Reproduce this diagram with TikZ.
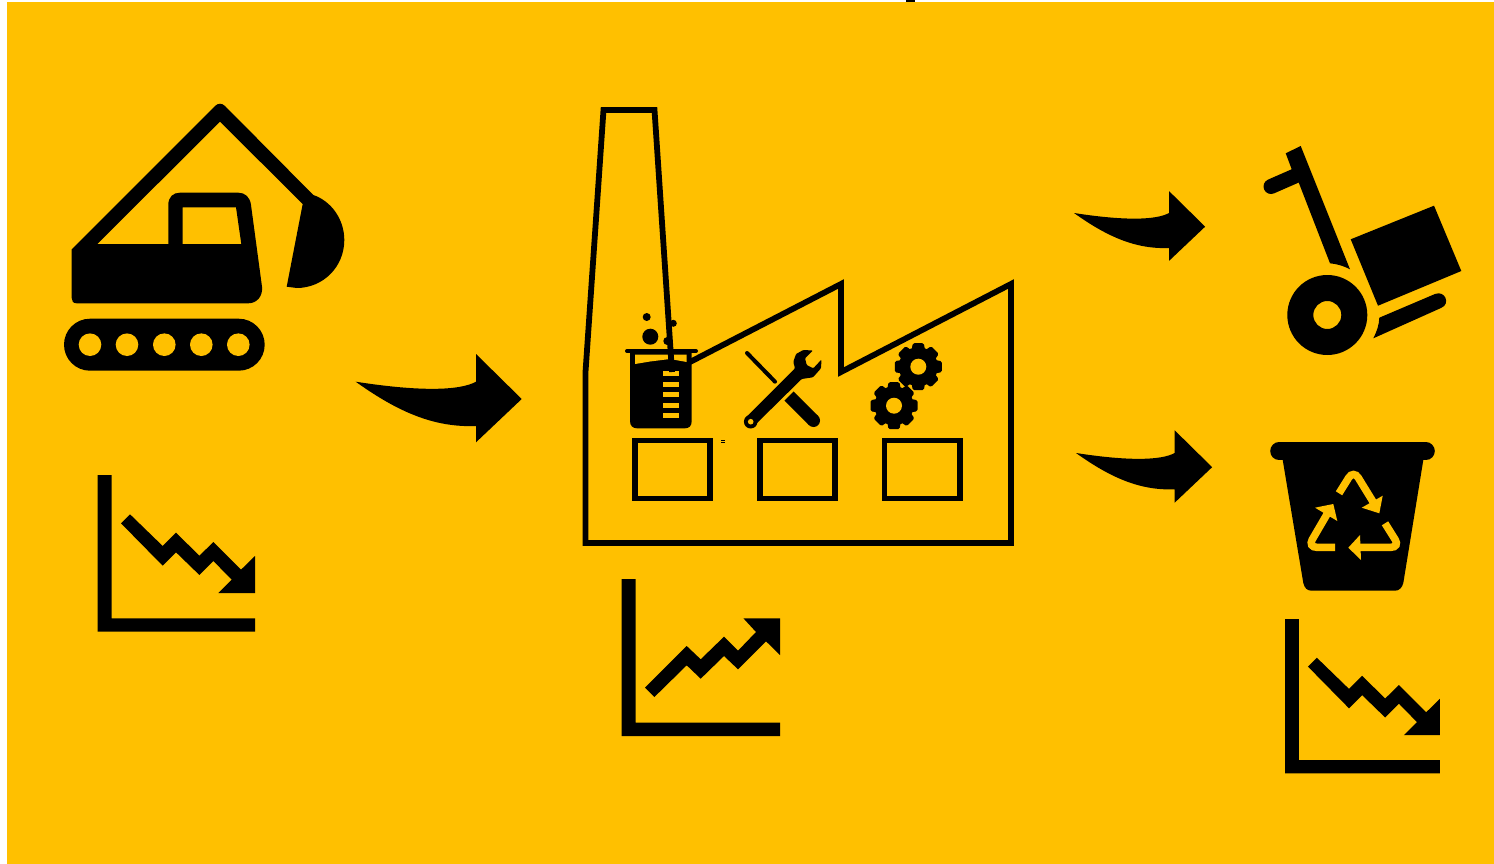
\documentclass[tikz,border=0pt]{standalone}
\definecolor{bgyellow}{HTML}{FFC000}
\tikzset{
  pics/chartdown/.style={code={
    \fill (0,0) -- (0,156.7) -- (157.3,156.7) -- (157.3,143.3) -- (14,143.3) -- (14,0) -- cycle;
    \fill (23.3,48.3) -- (32.3,39.3) -- (65,71) -- (78.3,57.7) -- (101.7,80.7) -- (115.7,67) -- (143.3,94.7) -- (157.3,81) -- (157.3,118) -- (120.7,118) -- (134,104.7) -- (115.7,86) -- (101.7,100) -- (78.3,77.3) -- (65,90.7) -- cycle;
  }},
  pics/chartup/.style={code={
    \fill (0,0) -- (0,157) -- (158.3,157) -- (158.3,143.7) -- (14,143.7) -- (14,0) -- cycle;
    \fill (23.3,108.7) -- (65,67) -- (79,80.3) -- (102.3,57.7) -- (116.3,71.7) -- (134.3,53) -- (121.7,39.3) -- (158.3,39.3) -- (158.3,76) -- (144.3,62.3) -- (116.3,90.3) -- (102.3,77) -- (79,99.7) -- (65,86.3) -- (32.7,118) -- cycle;
  }},
  pics/bendarrow/.style={code={
    \fill (0,0) .. controls (64,10) and (104,9) .. (120.3,0) -- (120.3,-27.7) -- (166,17.3) -- (120.3,60.6) -- (120.3,44.3) .. controls (78,46) and (42,30) .. (0,0) -- cycle;
  }},
  pics/gearicon/.style={code={
    \fill (0,0) circle[radius=19.5];
    \foreach \a in {0,45,...,315}
      \fill[rotate=\a,rounded corners=1.5pt] (-5.5,-23.5) -- (5.5,-23.5) -- (7,-15) -- (-7,-15) -- cycle;
    \fill[bgyellow] (0,0) circle[radius=8];
  }},
  outline/.style={draw=black,line width=5.8pt,miter limit=10},
  recycle/.style={draw=bgyellow,line width=7.5pt,rounded corners=9pt},
}
\begin{document}
\begin{tikzpicture}[x=1pt,y=-1pt,line join=miter]
\useasboundingbox (0,0) rectangle (1494,864);
\fill[white] (0,0) rectangle (1494,864);
\fill[bgyellow] (7,2) rectangle (1494,864);
\fill (906,0) rectangle (915,1.6);
\fill (720.5,439.6) rectangle (724.5,440.4);
\fill (720.5,441.6) rectangle (724.5,442.4);
\fill[even odd rule] (71.7,298) -- (71.7,249.3) -- (215,106) .. controls (218,103) and (222,103) .. (225,106) -- (313.3,195) .. controls (331,201) and (344.3,219) .. (344.3,240) .. controls (344.3,267) and (323,288) .. (296.7,288) -- (286.7,286.7) -- (302.7,204) -- (220,121.7) -- (97.3,244) -- (168.3,244) -- (168.3,205) .. controls (168.3,197) and (173,192.7) .. (180,192.7) -- (238.3,192.7) .. controls (245,192.7) and (250,197) .. (251,205) -- (262,286.7) .. controls (263,296) and (257,303.3) .. (248.3,303.3) -- (76.7,303.3) .. controls (73,303.3) and (71.7,301) .. (71.7,298) -- cycle (182.7,207.3) -- (236,207.3) -- (241.3,244) -- (182.7,244) -- cycle;
\fill[rounded corners=26pt] (64,318.7) rectangle (264.7,370.7);
\foreach \x in {90,127,164.3,201.3,238.3}
  \fill[bgyellow] (\x,344.7) circle[radius=11.3];
\pic at (97.7,475) {chartdown};
\pic[scale=.985] at (1285,619) {chartdown};
\pic at (621.7,579) {chartup};
\pic at (355.7,381.7) {bendarrow};
\pic[scale=.79] at (1074,213) {bendarrow};
\pic[scale=.82] at (1076,453) {bendarrow};
\fill (630,351) -- (630,421) .. controls (630,426) and (633,428.3) .. (637,428.3) -- (685,428.3) .. controls (689,428.3) and (691.7,426) .. (691.7,421) -- (691.7,351) -- cycle;
\draw[line width=4pt,line cap=round] (627,351) -- (696,351);
\fill[bgyellow] (635,354.5) -- (686.7,354.5) -- (686.7,362) -- (670,359) -- (650,361.5) -- (635,364) -- cycle;
\foreach \y in {370.7,381.7,392,402.7,413}
  \fill[bgyellow] (663.3,\y) rectangle (679.3,\y+5);
\fill (646.7,317) circle[radius=4];
\fill (650.3,336.7) circle[radius=8];
\fill (673.3,323.3) circle[radius=3.5];
\fill (667.3,341) circle[radius=4];
\draw[outline] (690,362) -- (841,284) -- (841,372) -- (1011,284) -- (1011,543) -- (585.5,543) -- (585.5,372) -- (603.5,110) -- (654.5,110) -- (672,372);
\foreach \x in {634.8,759.6,884.4}
  \draw[outline] (\x,440.5) rectangle +(75.5,58);
\draw[line width=4pt,line cap=round] (747,353) -- (775,381.7);
\draw[line width=13pt] (789,396) -- (813.5,420.5);
\fill (813.5,420.5) circle[radius=6.5];
\fill[rounded corners=1pt] (745,418.3) -- (795,368.3) -- (793.3,362) -- (796,354) -- (803.3,350) -- (813,350.5) -- (805,358.3) -- (806.7,365) -- (813.3,368.3) -- (821.5,359.5) -- (821,368.3) -- (813,377.3) -- (801.7,379) -- (755,425) -- cycle;
\fill (750.7,421.7) circle[radius=6.8];
\fill[bgyellow] (750.7,421.7) circle[radius=2.8];
\pic at (918.3,366.7) {gearicon};
\pic at (894,405.7) {gearicon};
\fill (1285.7,153.3) -- (1300.7,146) -- (1350,269.3) .. controls (1344,266) and (1337,264) .. (1330,263.3) -- (1299,183.3) -- (1291.7,169.3) -- cycle;
\draw[line width=15pt,line cap=round] (1271,186.5) -- (1295,176);
\fill (1350.7,239.3) -- (1434,205.7) -- (1461.3,271) -- (1378,305.7) -- cycle;
\fill[even odd rule] (1327.3,315) circle[radius=40] (1327.3,315) circle[radius=14];
\fill (1379.3,317.7) -- (1435,294) .. controls (1445,290) and (1451,304) .. (1441,308) -- (1373.3,338.3) .. controls (1377,331) and (1379,325) .. (1379.3,317.7) -- cycle;
\fill (1282.7,460) -- (1423.3,460) -- (1403.3,583) .. controls (1402,588) and (1399,590.7) .. (1395,590.7) -- (1311.7,590.7) .. controls (1307,590.7) and (1304.5,588) .. (1303.3,583) -- cycle;
\draw[line width=17.6pt,line cap=round] (1279,451.2) -- (1426,451.2);
\draw[recycle] (1339,493.3) -- (1353.5,470) -- (1375,505);
\fill[bgyellow] (1382.7,495.7) -- (1379.3,513.3) -- (1361.7,507.7) -- cycle;
\draw[recycle] (1335,547.3) -- (1307.7,547.3) -- (1328.3,512);
\fill[bgyellow] (1315,507.7) -- (1333.3,504) -- (1337.3,521) -- cycle;
\draw[recycle] (1385,523.3) -- (1400,547.3) -- (1358,547.3);
\fill[bgyellow] (1360,535) -- (1348.3,547.7) -- (1361,560) -- cycle;
\end{tikzpicture}
\end{document}
